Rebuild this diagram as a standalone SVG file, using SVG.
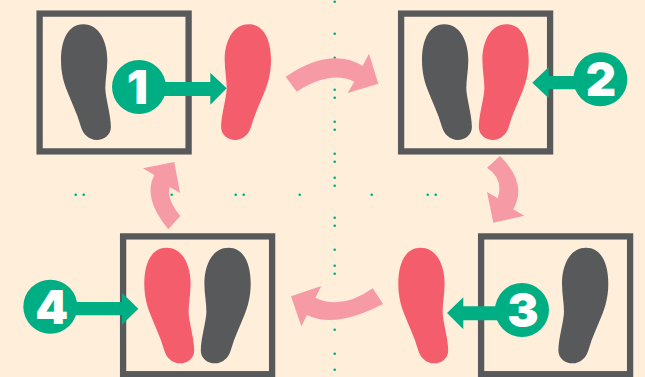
<svg xmlns="http://www.w3.org/2000/svg" width="645" height="377" viewBox="0 0 645 377">
<style>
.frame{fill:none;stroke:#58595b;stroke-width:6.3}
.dark{fill:#58595b}
.red{fill:#f45d6b}
.green{fill:#00ae84}
.pink{fill:#f69aa6}
.dots circle{fill:#00ae84;r:1.3px}
.num{font-family:"Inter","Liberation Sans",sans-serif;font-weight:900;font-size:47px;fill:#fff;text-anchor:middle}
</style>
<defs>
<path id="foot" d="M83.3 24.3C99.5 24.3 107.3 42 107.3 60C107.3 70 105.3 80 105.3 88C105.3 97 110.9 115 110.9 127C110.9 135 104 139.9 96.7 139.9C89 139.9 83 134 81 127C77 113 71 101 66.7 90C62 78 61 68 61 60C61 42 67 24.3 83.3 24.3Z"/>
</defs>
<rect width="645" height="377" fill="#feeeda"/>
<g class="dots">
<circle cx="334.7" cy="1.7"/><circle cx="334.7" cy="33.7"/><circle cx="334.7" cy="57.7"/><circle cx="334.7" cy="89.7"/><circle cx="334.7" cy="97.7"/><circle cx="334.7" cy="121.7"/><circle cx="334.7" cy="129.7"/><circle cx="334.7" cy="153.7"/><circle cx="334.7" cy="161.7"/><circle cx="334.7" cy="177.7"/><circle cx="334.7" cy="185.7"/><circle cx="334.7" cy="217.7"/><circle cx="334.7" cy="225.7"/><circle cx="334.7" cy="249.7"/><circle cx="334.7" cy="265.7"/><circle cx="334.7" cy="273.7"/><circle cx="334.7" cy="329.7"/><circle cx="334.7" cy="353.7"/><circle cx="334.7" cy="369.7"/>
<circle cx="75.7" cy="194.7"/><circle cx="83.7" cy="194.7"/><circle cx="171.7" cy="194.7"/><circle cx="235.7" cy="194.7"/><circle cx="243.7" cy="194.7"/><circle cx="299.7" cy="194.7"/><circle cx="371.7" cy="194.7"/><circle cx="427.7" cy="194.7"/><circle cx="435.7" cy="194.7"/>
</g>
<g id="connectors">
<path class="pink" d="M285.7 76.7Q329.8 46.5 362.7 65.7L369 53.7L378.3 83.7L347.7 93L354.3 81.7Q330.5 70 296.7 91.7Z"/>
<path class="pink" d="M500 156Q527.8 183.3 513.3 209.3L524.3 215.7L493.3 222.7L487 192L497.7 198.3Q504 179 487 167.7Z"/>
<path class="pink" d="M383 304Q335 329 307 315L301.3 326.3L291 296.3L321.3 286L315.3 297.7Q342 310.3 372.7 288.3Z"/>
<path class="pink" d="M168.3 229.3Q142.2 197.8 154.3 175L143 168.3L174.3 162L180 193L169.7 187Q166.5 199.5 180.3 216Z"/>
</g>
<g id="step1">
<rect class="frame" x="39.6" y="13.6" width="149" height="137.8"/>
<use href="#foot" class="dark"/>
<use href="#foot" class="red" transform="translate(332 0) scale(-1 1)"/>
<path class="green" d="M150 82H210.3V72.7L226.7 88.3L210.3 104.7V96H150Z"/>
<circle class="green" cx="139" cy="87" r="27"/>
<text class="num" x="137.5" y="104">1</text>
</g>
<g id="step2">
<rect class="frame" x="401.1" y="13.6" width="149" height="137.8"/>
<use href="#foot" class="dark" transform="translate(361 0)"/>
<use href="#foot" class="red" transform="translate(589.7 0) scale(-1 1)"/>
<path class="green" d="M590 76H548.7V67L532.3 82.7L548.7 98.3V89.3H590Z"/>
<circle class="green" cx="600.3" cy="79.3" r="27"/>
<text class="num" x="601" y="96">2</text>
</g>
<g id="step3">
<rect class="frame" x="481.1" y="236.4" width="149" height="137.8"/>
<use href="#foot" class="dark" transform="translate(669.3 223.4) scale(-1 1)"/>
<use href="#foot" class="red" transform="translate(337.3 223.4)"/>
<path class="green" d="M510 306.3H463.3V297.3L447 313L463.3 329.3V320.3H510Z"/>
<circle class="green" cx="522" cy="310" r="27"/>
<text class="num" x="523" y="326.7">3</text>
</g>
<g id="step4">
<rect class="frame" x="123.1" y="236.4" width="149" height="137.8"/>
<use href="#foot" class="red" transform="translate(83.3 223.4)"/>
<use href="#foot" class="dark" transform="translate(311.7 223.4) scale(-1 1)"/>
<path class="green" d="M60 302H122V292.7L138.3 308.7L122 324.7V315.3H60Z"/>
<circle class="green" cx="50.3" cy="306.7" r="27"/>
<text class="num" x="51.7" y="323.7">4</text>
</g>
</svg>
